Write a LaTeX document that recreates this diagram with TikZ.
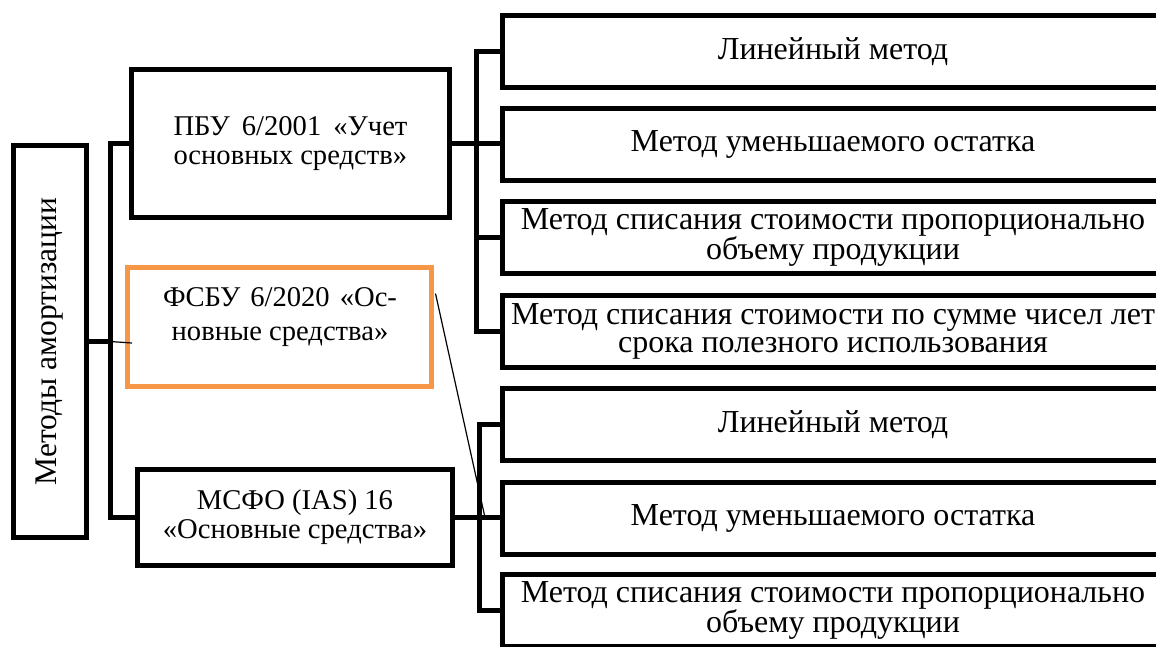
\documentclass[tikz,border=0pt]{standalone}
\usepackage{fontspec}
\setmainfont{Liberation Serif}
\usetikzlibrary{calc}
\definecolor{fsbuorange}{HTML}{F79646}
\hyphenpenalty=10000
\exhyphenpenalty=10000

\begin{document}
\begin{tikzpicture}[x=1pt,y=-1pt,
  box/.style={draw, line width=5pt, inner sep=0pt, align=center},
  std/.style={box, font=\fontsize{28.6}{29}\selectfont},
  method/.style={box, minimum width=661pt, minimum height=72pt,
    font=\fontsize{32}{28}\selectfont},
  link/.style={line width=5pt},
  thinlink/.style={line width=1.2pt}]

\useasboundingbox (0,0) rectangle (1156,646);
\fill[white] (0,0) rectangle (1156,646);
\clip (0,0) rectangle (1156,646);

\node[box, minimum width=73pt, minimum height=392pt] (meth) at (50,341.5)
  {\rotatebox{90}{\fontsize{31.5}{32}\selectfont Методы амортизации}};

\node[std, minimum width=318pt, minimum height=148pt, text width=234pt, align=justify]
  (pbu) at (290.5,143.5) {ПБУ 6/2001 «Учет\linebreak основных средств»};
\node[box, draw=fsbuorange, minimum width=304pt, minimum height=119pt] (fsbu) at (279.5,327) {};
\node[std, draw=none, font=\fontsize{28.6}{34}\selectfont] (fsbutxt) at (280,317.5)
  {\makebox[234pt][s]{ФСБУ 6/2020 «Ос-}\\новные средства»};
\node[std, minimum width=315pt, minimum height=96pt] (msfo) at (295,517.5)
  {МСФО (IAS) 16\\«Основные средства»};

\node[method] (ru1) at (833,51.5) {Линейный метод};
\node[method] (ru2) at (833,144.5) {Метод уменьшаемого остатка};
\node[method] (ru3) at (833,237.5) {Метод списания стоимости пропорционально\\объему продукции};
\node[method] (ru4) at (833,331.5) {Метод списания стоимости по сумме чисел лет\\срока полезного использования};

\node[method] (rl1) at (833,424.5) {Линейный метод};
\node[method] (rl2) at (833,518) {Метод уменьшаемого остатка};
\node[method] (rl3) at (833,610.5) {Метод списания стоимости пропорционально\\объему продукции};

\coordinate (lt) at (110,0);
\coordinate (ut) at (476,0);
\coordinate (lwt) at (479,0);

\draw[link] (meth.east) -- (meth.east -| lt);
\draw[link] (pbu.west) -- (pbu.west -| lt) -- (msfo.west -| lt) -- (msfo.west);

\draw[link] (pbu.east) -- (pbu.east -| ru2.west);
\draw[link] (ru1.west) -- (ru1.west -| ut) -- (ru4.west -| ut) -- (ru4.west);
\draw[link] (ru3.west) -- (ru3.west -| ut);

\draw[link] (msfo.east) -- (msfo.east -| rl2.west);
\draw[link] (rl1.west) -- (rl1.west -| lwt) -- (rl3.west -| lwt) -- (rl3.west);

\draw[thinlink] (meth.east -| lt) -- ($(meth.east -| fsbu.west)+(7,1.5)$);
\draw[thinlink] ($(fsbu.north east)+(1.5,28.5)$) -- ($(msfo.east -| lwt)+(6,0)$);

\end{tikzpicture}
\end{document}
